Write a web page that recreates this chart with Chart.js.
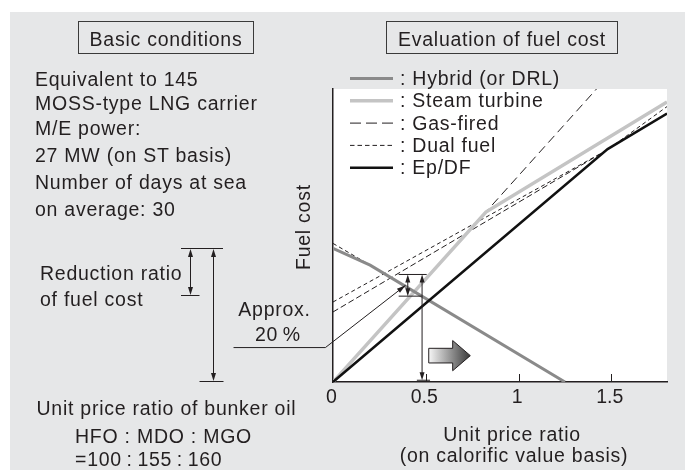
<!DOCTYPE html>
<html>
<head>
<meta charset="utf-8">
<script src="https://cdn.jsdelivr.net/npm/chart.js@4"></script>
<style>
  html, body { margin: 0; padding: 0; background: #fff; }
  #wrap { position: relative; width: 685px; height: 476px; overflow: hidden; }
  #bg { position: absolute; left: 10px; top: 12px; width: 675px; height: 458px; background: #e6e7e8; }
  canvas, svg { position: absolute; left: 0; top: 0; }
  svg text { font-family: 'Liberation Sans', Arial, sans-serif; font-size: 19.5px; letter-spacing: 0.75px; fill: #231f20; }
</style>
</head>
<body>
<div id="wrap">
  <div id="bg"></div>
  <canvas id="fuelChart" width="685" height="476"></canvas>
  <svg id="overlay" width="685" height="476"></svg>
</div>
<script>
// x: unit price ratio, y: fuel cost (relative, 0-100 = plot height)
const xTicks = [0, 0.5, 1, 1.5];

const hybridX = [0, 0.2, 1.25];
const hybridY = [45.6, 39.9, 0];
const drlX = [0, 0.2];
const drlY = [47.3, 39.9];
const steamX = [0, 0.824, 1.8];
const steamY = [0, 58.0, 95.6];
const gasX = [0, 1.42];
const gasY = [0, 100];
const dualX = [0, 1.48, 1.8];
const dualY = [27.3, 79.3, 94.0];
const dual2X = [0, 1.48];
const dual2Y = [23.9, 79.3];
const epdfX = [0, 1.48, 1.8];
const epdfY = [0, 79.5, 91.6];

const INK = '#231f20';
const FONT = "'Liberation Sans', Arial, sans-serif";

const pts = (xs, ys) => xs.map((x, i) => ({ x, y: ys[i] }));

// reduction-ratio marker drawn inside the plot (data units)
const markTop = 36.7, markLow = 29.3, markBase = 0.6;
const markLeft = 0.354, markRight = 0.505, markLowRight = 0.478;
const markShortX = 0.403, markLongX = 0.480;
const baseTickL = 0.452, baseTickR = 0.523;
const calloutPath = [[-0.536, 11.75], [-0.041, 11.75], [0.391, 33.0]];
const blockArrow = { x0: 0.516, x1: 0.645, x2: 0.740, yc: 9.0, body: 2.5, head: 5.15 };

const plotBg = {
    id: 'plotBg',
    beforeDraw(c) {
        const { ctx, chartArea: a } = c;
        ctx.save();
        ctx.fillStyle = '#fff';
        ctx.fillRect(a.left, a.top, a.right - a.left, a.bottom - a.top);
        ctx.restore();
    }
};

function seg(ctx, x1, y1, x2, y2) {
    ctx.beginPath();
    ctx.moveTo(x1, y1);
    ctx.lineTo(x2, y2);
    ctx.stroke();
}

function head(ctx, tx, ty, fx, fy, len = 8, half = 2.5) {
    const a = Math.atan2(ty - fy, tx - fx);
    ctx.beginPath();
    ctx.moveTo(tx, ty);
    ctx.lineTo(tx - len * Math.cos(a) + half * Math.sin(a), ty - len * Math.sin(a) - half * Math.cos(a));
    ctx.lineTo(tx - len * Math.cos(a) - half * Math.sin(a), ty - len * Math.sin(a) + half * Math.cos(a));
    ctx.closePath();
    ctx.fill();
}

const annotations = {
    id: 'annotations',
    afterDraw(c) {
        const { ctx } = c;
        const X = v => c.scales.x.getPixelForValue(v);
        const Y = v => c.scales.y.getPixelForValue(v);
        ctx.save();
        ctx.strokeStyle = INK;
        ctx.fillStyle = INK;
        ctx.lineWidth = 1;

        // tick marks pointing into the plot
        xTicks.filter(v => v > 0).forEach(v => {
            const px = Math.round(X(v)) + 0.5;
            seg(ctx, px, Y(0), px, Y(0) - 8);
        });

        // reduction ratio bars and arrows
        seg(ctx, X(markLeft), Y(markTop), X(markRight), Y(markTop));
        seg(ctx, X(markLeft), Y(markLow), X(markLowRight), Y(markLow));
        seg(ctx, X(baseTickL), Y(markBase), X(baseTickR), Y(markBase));
        [[markShortX, markLow], [markLongX, markBase]].forEach(([mx, lowV]) => {
            const px = X(mx), t = Y(markTop), b = Y(lowV);
            seg(ctx, px, t + 6, px, b - 6);
            head(ctx, px, t, px, b);
            head(ctx, px, b, px, t);
        });

        // callout leader "Approx. 20 %"
        ctx.beginPath();
        calloutPath.forEach(([vx, vy], i) => i ? ctx.lineTo(X(vx), Y(vy)) : ctx.moveTo(X(vx), Y(vy)));
        ctx.stroke();
        const [p1, p2] = calloutPath.slice(-2);
        head(ctx, X(p2[0]), Y(p2[1]), X(p1[0]), Y(p1[1]), 9, 2.5);

        // gray block arrow
        const b = blockArrow;
        const g = ctx.createLinearGradient(X(b.x0), 0, X(b.x2), 0);
        g.addColorStop(0, '#f6f6f6');
        g.addColorStop(1, '#3a3a3a');
        ctx.beginPath();
        ctx.moveTo(X(b.x0), Y(b.yc + b.body));
        ctx.lineTo(X(b.x1), Y(b.yc + b.body));
        ctx.lineTo(X(b.x1), Y(b.yc + b.head));
        ctx.lineTo(X(b.x2), Y(b.yc));
        ctx.lineTo(X(b.x1), Y(b.yc - b.head));
        ctx.lineTo(X(b.x1), Y(b.yc - b.body));
        ctx.lineTo(X(b.x0), Y(b.yc - b.body));
        ctx.closePath();
        ctx.fillStyle = g;
        ctx.fill();
        ctx.stroke();
        ctx.restore();
    }
};

const datasets = [
    { label: 'Hybrid (or DRL)', data: pts(hybridX, hybridY), borderColor: '#8a8a8a', borderWidth: 3, order: 2, inLegend: true },
    { label: 'Steam turbine', data: pts(steamX, steamY), borderColor: '#c4c4c4', borderWidth: 3.5, order: 3, inLegend: true },
    { label: 'Gas-fired', data: pts(gasX, gasY), borderColor: INK, borderWidth: 1, borderDash: [9, 5], order: 6, inLegend: true },
    { label: 'Dual fuel', data: pts(dualX, dualY), borderColor: INK, borderWidth: 1, borderDash: [4, 3], order: 4, inLegend: true },
    { label: 'Ep/DF', data: pts(epdfX, epdfY), borderColor: '#111', borderWidth: 2.5, order: 1, inLegend: true },
    { label: 'Dual fuel (2)', data: pts(dual2X, dual2Y), borderColor: INK, borderWidth: 1, borderDash: [6, 3], order: 5 },
    { label: 'DRL', data: pts(drlX, drlY), borderColor: INK, borderWidth: 1, borderDash: [4, 3], order: 5 }
];

new Chart(document.getElementById('fuelChart'), {
    type: 'line',
    data: { datasets },
    options: {
        responsive: false,
        animation: false,
        layout: { padding: { left: 333, top: 89, right: 18, bottom: 64 } },
        elements: {
            point: { radius: 0 },
            line: { tension: 0, fill: false, borderCapStyle: 'butt' }
        },
        plugins: {
            legend: { display: false },
            tooltip: { enabled: false }
        },
        scales: {
            x: {
                type: 'linear',
                min: 0,
                max: 1.8,
                afterFit: s => { s.height = 30; },
                afterBuildTicks: s => { s.ticks = xTicks.map(v => ({ value: v })); },
                ticks: {
                    color: INK,
                    padding: 4,
                    labelOffset: -1.5,
                    maxRotation: 0,
                    font: { family: FONT, size: 19.5 },
                    callback: v => String(v)
                },
                grid: { display: false, drawTicks: false },
                border: { color: INK, width: 1.5 }
            },
            y: {
                min: 0,
                max: 100,
                afterFit: s => { s.width = 0; },
                ticks: { display: false },
                grid: { display: false, drawTicks: false },
                border: { color: INK, width: 1.5 }
            }
        }
    },
    plugins: [plotBg, annotations]
});

// ---- text, boxes and legend overlay ----
const svg = document.getElementById('overlay');
const NS = 'http://www.w3.org/2000/svg';
function el(tag, attrs, text) {
    const e = document.createElementNS(NS, tag);
    for (const k in attrs) e.setAttribute(k, attrs[k]);
    if (text != null) e.textContent = text;
    svg.appendChild(e);
    return e;
}
function line(x1, y1, x2, y2) {
    el('line', { x1, y1, x2, y2, stroke: INK, 'stroke-width': 1 });
}
function dblArrow(x, y1, y2) {
    line(x, y1 + 6, x, y2 - 6);
    el('polygon', { points: `${x},${y1} ${x - 2.5},${y1 + 8} ${x + 2.5},${y1 + 8}`, fill: INK });
    el('polygon', { points: `${x},${y2} ${x - 2.5},${y2 - 8} ${x + 2.5},${y2 - 8}`, fill: INK });
}

el('rect', { x: 78.5, y: 21.5, width: 175, height: 32, fill: 'none', stroke: '#3a3a3a', 'stroke-width': 1 });
el('text', { x: 166, y: 45.5, 'text-anchor': 'middle' }, 'Basic conditions');
el('rect', { x: 386.5, y: 21.5, width: 231, height: 32, fill: 'none', stroke: '#3a3a3a', 'stroke-width': 1 });
el('text', { x: 502, y: 45.5, 'text-anchor': 'middle' }, 'Evaluation of fuel cost');

const notes = [
    ['Equivalent to 145', 35, 85.5],
    ['MOSS-type LNG carrier', 35, 109.5],
    ['M/E power:', 35, 135],
    ['27 MW (on ST basis)', 35, 161.5],
    ['Number of days at sea', 35, 189.3],
    ['on average: 30', 35, 216],
    ['Reduction ratio', 40, 280],
    ['of fuel cost', 40, 306],
    ['Approx.', 238.3, 316],
    ['20\u2009%', 255, 341],
    ['Unit price ratio of bunker oil', 36.5, 415],
    ['HFO : MDO : MGO', 75, 443.3],
    ['=100\u2009:\u2009155\u2009:\u2009160', 75, 466]
];
notes.forEach(([t, x, y]) => el('text', { x, y }, t));

// reduction ratio key
line(181, 248.5, 223, 248.5);
line(181, 295.5, 199.5, 295.5);
line(199.5, 381.5, 223.5, 381.5);
dblArrow(190.5, 249, 295);
dblArrow(213.5, 249, 381);

// axis titles
el('text', { x: 512, y: 441, 'text-anchor': 'middle' }, 'Unit price ratio');
el('text', { x: 514, y: 462, 'text-anchor': 'middle' }, '(on calorific value basis)');
el('text', { transform: 'translate(310,270) rotate(-90)' }, 'Fuel cost');

// legend from the datasets
datasets.filter(d => d.inLegend).forEach((d, i) => {
    const cy = 77.5 + i * 22.3;
    el('line', {
        x1: 350, y1: cy + 1, x2: 393, y2: cy + 1,
        stroke: d.borderColor, 'stroke-width': d.borderWidth,
        'stroke-dasharray': d.borderDash ? (d.label === 'Gas-fired' ? '11 5' : '4.5 3') : 'none'
    });
    el('text', { x: 400, y: cy + 7.5 }, ': ' + d.label);
});
</script>
</body>
</html>
